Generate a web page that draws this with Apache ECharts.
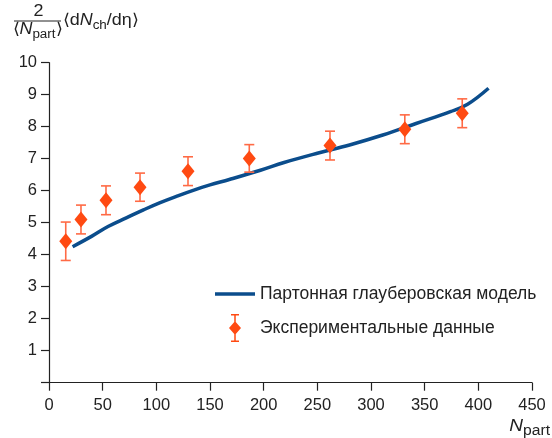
<!DOCTYPE html>
<html><head><meta charset="utf-8">
<script src="https://cdn.jsdelivr.net/npm/echarts@6/dist/echarts.min.js"></script>
<style>html,body{margin:0;padding:0;background:#fff}#c{width:552px;height:438px}</style>
</head><body><div id="c"></div>
<script>
// Model curve (Npart, value)
const modelX = [22, 40, 55, 72, 88, 103, 120, 135, 150, 168, 197, 219, 250, 280, 311, 342, 374, 390, 409.5];
const modelY = [4.25, 4.58, 4.88, 5.15, 5.40, 5.62, 5.84, 6.02, 6.18, 6.35, 6.64, 6.88, 7.17, 7.43, 7.74, 8.10, 8.47, 8.70, 9.2];
// Experimental points
const expX = [15.6, 29.8, 53.1, 84.8, 129.5, 186.6, 261.8, 331.5, 385];
const expY = [4.42, 5.10, 5.70, 6.11, 6.61, 7.01, 7.41, 7.92, 8.42];
const expErr = [0.6, 0.45, 0.45, 0.44, 0.45, 0.43, 0.45, 0.45, 0.45];
const xTicks = [0, 50, 100, 150, 200, 250, 300, 350, 400, 450];
const yTicks = [0, 1, 2, 3, 4, 5, 6, 7, 8, 9, 10];
const nameModel = 'Партонная глауберовская модель';
const nameExp = 'Экспериментальные данные';

const FONT = '"Liberation Sans", Arial, sans-serif';
const TXT = '#222';
const SX = 1.12;
const chart = echarts.init(document.getElementById('c'));
const lineData = modelX.map((x, i) => [x, modelY[i]]);
const ptData = expX.map((x, i) => [x, expY[i]]);
const errData = expX.map((x, i) => [x, expY[i] - expErr[i], expY[i] + expErr[i]]);

const richBase = function (main, sub, subPad) {
  return {
    a: {fontSize: main, fontFamily: FONT, fill: TXT, verticalAlign: 'top', lineHeight: 20},
    n: {fontSize: main, fontFamily: FONT, fontStyle: 'italic', fill: TXT, verticalAlign: 'top', lineHeight: 20},
    s: {fontSize: sub, fontFamily: FONT, fill: TXT, verticalAlign: 'top', padding: [subPad, 0, 0, 0], lineHeight: 20}
  };
};

chart.setOption({
  animation: false,
  textStyle: {fontFamily: FONT},
  grid: {left: 49, right: 20, top: 62.7, bottom: 55.3},
  xAxis: {
    type: 'value', min: xTicks[0], max: xTicks[xTicks.length - 1], interval: 50,
    axisLine: {lineStyle: {color: '#222', width: 1.2}},
    axisTick: {show: true, length: 8, lineStyle: {color: '#222', width: 1.2}},
    axisLabel: {color: TXT, fontSize: 16.5, margin: 14, fontFamily: FONT},
    splitLine: {show: false}
  },
  yAxis: {
    type: 'value', min: yTicks[0], max: yTicks[yTicks.length - 1], interval: 1,
    axisLine: {show: true, lineStyle: {color: '#222', width: 1.2}},
    axisTick: {show: true, length: 8, lineStyle: {color: '#222', width: 1.2}},
    axisLabel: {color: TXT, fontSize: 16.5, margin: 12, fontFamily: FONT,
      formatter: v => v === 0 ? '' : String(v)},
    splitLine: {show: false}
  },
  legend: {
    orient: 'vertical', left: 215, top: 285, padding: 0, itemWidth: 40, itemHeight: 28,
    itemGap: 11, itemTextGap: 6,
    textStyle: {color: TXT, fontSize: 17.5, fontFamily: FONT},
    data: [
      {name: nameModel, icon: 'path://M0,12.2H40V15.8H0Z'},
      {name: nameExp, icon: 'path://M2,0H10V1.5H6.75V7.9L12,14L6.75,20.1V26.5H10V28H2V26.5H5.25V20.1L0,14L5.25,7.9V1.5H2Z'}
    ]
  },
  series: [
    {
      name: nameModel, type: 'line', data: lineData, smooth: 0.4, symbol: 'none',
      lineStyle: {color: '#0b4d8c', width: 3.5}, itemStyle: {color: '#0b4d8c'}, z: 2
    },
    {
      name: 'err', type: 'custom', data: errData, z: 3,
      renderItem: function (params, api) {
        const x = api.value(0);
        const lo = api.coord([x, api.value(1)]);
        const hi = api.coord([x, api.value(2)]);
        const w = 5;
        const st = {stroke: '#ff6a45', lineWidth: 1.6};
        return {type: 'group', children: [
          {type: 'line', shape: {x1: lo[0], y1: lo[1], x2: hi[0], y2: hi[1]}, style: st},
          {type: 'line', shape: {x1: lo[0] - w, y1: lo[1], x2: lo[0] + w, y2: lo[1]}, style: st},
          {type: 'line', shape: {x1: hi[0] - w, y1: hi[1], x2: hi[0] + w, y2: hi[1]}, style: st}
        ]};
      }
    },
    {
      name: nameExp, type: 'scatter', data: ptData, symbol: 'diamond', symbolSize: [13, 16],
      symbolKeepAspect: true,
      itemStyle: {color: '#ff4a12', opacity: 1}, z: 4
    }
  ],
  graphic: [
    {type: 'text', x: 38.5, y: 4, scaleX: SX, style: {text: '2', fontSize: 16, fontFamily: FONT, fill: TXT, align: 'center', verticalAlign: 'top'}},
    {type: 'line', shape: {x1: 14, y1: 21, x2: 61, y2: 21}, style: {stroke: TXT, lineWidth: 1}},
    {type: 'text', x: 37.5, y: 22, scaleX: SX, style: {
      text: '{a|⟨}{n|N}{s|part}{a|⟩}', align: 'center', verticalAlign: 'top',
      rich: richBase(16, 12, 7)}},
    {type: 'text', x: 63, y: 13, scaleX: SX, style: {
      text: '{a|⟨d}{n|N}{s|ch}{a|/dη⟩}', align: 'left', verticalAlign: 'top',
      rich: richBase(16, 12, 7)}},
    {type: 'text', x: 550, y: 418, scaleX: SX, style: {
      text: '{n|N}{s|part}', align: 'right', verticalAlign: 'top',
      rich: richBase(17, 14, 6)}}
  ]
});
</script></body></html>
